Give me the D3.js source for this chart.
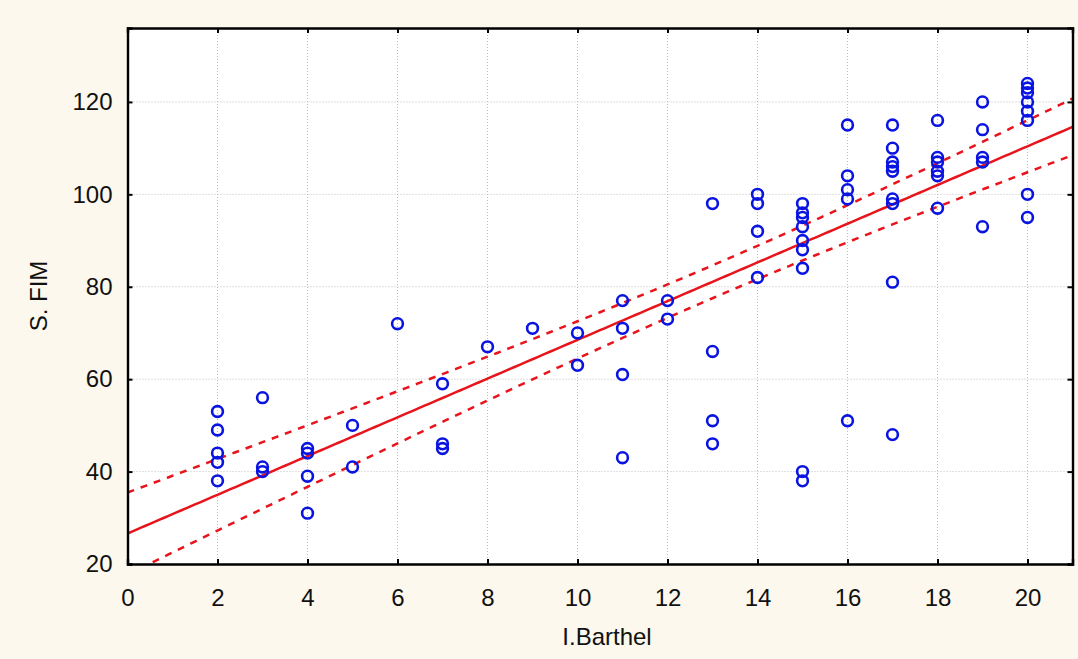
<!DOCTYPE html>
<html>
<head>
<meta charset="utf-8">
<script src="https://cdn.jsdelivr.net/npm/d3@7"></script>
<style>
  html, body { margin: 0; padding: 0; background: #fcf8ee; }
  svg { display: block; }
  text { font-family: "Liberation Sans", Arial, sans-serif; fill: #111; }
</style>
</head>
<body>
<svg id="chart" width="1078" height="659"></svg>
<script>
const barthel = [
  2,2,2,2,2,
  3,3,3,
  4,4,4,4,
  5,5,
  6,
  7,7,7,
  8,
  9,
  10,10,
  11,11,11,11,
  12,12,
  13,13,13,13,
  14,14,14,14,
  15,15,15,15,15,15,15,15,15,
  16,16,16,16,16,
  17,17,17,17,17,17,17,17,17,
  18,18,18,18,18,18,
  19,19,19,19,19,
  20,20,20,20,20,20,20,20
];
const fim = [
  53,49,44,42,38,
  56,41,40,
  45,44,39,31,
  50,41,
  72,
  59,46,45,
  67,
  71,
  70,63,
  77,71,61,43,
  77,73,
  98,66,51,46,
  100,98,92,82,
  98,96,95,93,90,88,84,40,38,
  115,104,101,99,51,
  115,110,107,106,105,99,98,81,48,
  116,108,107,105,104,97,
  120,114,108,107,93,
  124,123,122,120,118,116,100,95
];
// fitted line as drawn in the picture: [intercept, slope]
const fitLine = [26.6, 4.19];
const xTicks = [0,2,4,6,8,10,12,14,16,18,20];
const yTicks = [20,40,60,80,100,120];
const xLabel = "I.Barthel";
const yLabel = "S. FIM";

const svg = d3.select("#chart");
const W = 1078, H = 659;
const m = {left: 127.5, right: W - 1072.5, top: 28, bottom: H - 564};
const x = d3.scaleLinear().domain([0, 21]).range([m.left, W - m.right]);
const y = d3.scaleLinear().domain([20, 136]).range([H - m.bottom, m.top]);

svg.append("rect").attr("x", x(0)).attr("y", y(136))
  .attr("width", x(21) - x(0)).attr("height", y(20) - y(136)).attr("fill", "#fff");

const grid = svg.append("g");
grid.selectAll("line.gx").data(xTicks.filter(d => d > 0)).join("line")
  .attr("x1", d => x(d)).attr("x2", d => x(d)).attr("y1", y(20)).attr("y2", y(136))
  .attr("stroke", "#bdbdbd").attr("stroke-width", 1).attr("stroke-dasharray", "1,2");
grid.selectAll("line.gy").data(yTicks.filter(d => d > 20)).join("line")
  .attr("y1", d => y(d)).attr("y2", d => y(d)).attr("x1", x(0)).attr("x2", x(21))
  .attr("stroke", "#bdbdbd").attr("stroke-width", 1).attr("stroke-dasharray", "1,2");

// 95% confidence band around the fitted line, spread from the data
const n = barthel.length;
const mx = d3.mean(barthel);
const [b0, b1] = fitLine;
let sxx = 0, sse = 0;
for (let i = 0; i < n; i++) {
  sxx += (barthel[i]-mx)**2;
  sse += (fim[i] - b0 - b1*barthel[i])**2;
}
const s = Math.sqrt(sse / (n - 2));
const t = 1.99;
const xs = d3.range(0, 21.0001, 0.1);
const fit = xs.map(v => ({x: v, y: b0 + b1*v, h: t * s * Math.sqrt(1/n + (v-mx)**2/sxx)}));

svg.append("clipPath").attr("id", "clip").append("rect")
  .attr("x", x(0)).attr("y", y(136)).attr("width", x(21)-x(0)).attr("height", y(20)-y(136));
const lines = svg.append("g").attr("clip-path", "url(#clip)");
const lineGen = acc => d3.line().x(d => x(d.x)).y(acc);
lines.append("path").datum(fit).attr("d", lineGen(d => y(d.y)))
  .attr("fill", "none").attr("stroke", "#e8141c").attr("stroke-width", 2.5);
[1, -1].forEach(sg => {
  lines.append("path").datum(fit).attr("d", lineGen(d => y(d.y + sg*d.h)))
    .attr("fill", "none").attr("stroke", "#e8141c").attr("stroke-width", 2.5).attr("stroke-dasharray", "7,7");
});

svg.append("g").selectAll("circle").data(d3.range(n)).join("circle")
  .attr("cx", i => x(barthel[i])).attr("cy", i => y(fim[i])).attr("r", 5.4)
  .attr("fill", "none").attr("stroke", "#0a14e0").attr("stroke-width", 2.6);

const fs = "24px";
const axB = svg.append("g").attr("transform", `translate(0,${y(20)})`)
  .call(d3.axisBottom(x).tickValues(xTicks).tickSize(-5).tickPadding(25).tickFormat(d3.format("d")));
const axT = svg.append("g").attr("transform", `translate(0,${y(136)})`)
  .call(d3.axisTop(x).tickValues(xTicks).tickSize(-5).tickFormat(""));
const axL = svg.append("g").attr("transform", `translate(${x(0)},0)`)
  .call(d3.axisLeft(y).tickValues(yTicks).tickSize(-5).tickPadding(15).tickFormat(d3.format("d")));
const axR = svg.append("g").attr("transform", `translate(${x(21)},0)`)
  .call(d3.axisRight(y).tickValues(yTicks).tickSize(-5).tickFormat(""));
[axB, axT, axL, axR].forEach(a => {
  a.attr("font-size", null).attr("font-family", null);
  a.select(".domain").attr("stroke", "#000").attr("stroke-width", 2.4);
  a.selectAll(".tick line").attr("stroke", "#000").attr("stroke-width", 2);
  a.selectAll(".tick text").style("font-size", fs).attr("fill", "#111");
});

svg.append("text").attr("x", 607).attr("y", 645).attr("text-anchor", "middle")
  .style("font-size", fs).text(xLabel);
svg.append("text").attr("transform", `translate(47,${(y(20)+y(136))/2}) rotate(-90)`)
  .attr("text-anchor", "middle").style("font-size", fs).text(yLabel);
</script>
</body>
</html>
